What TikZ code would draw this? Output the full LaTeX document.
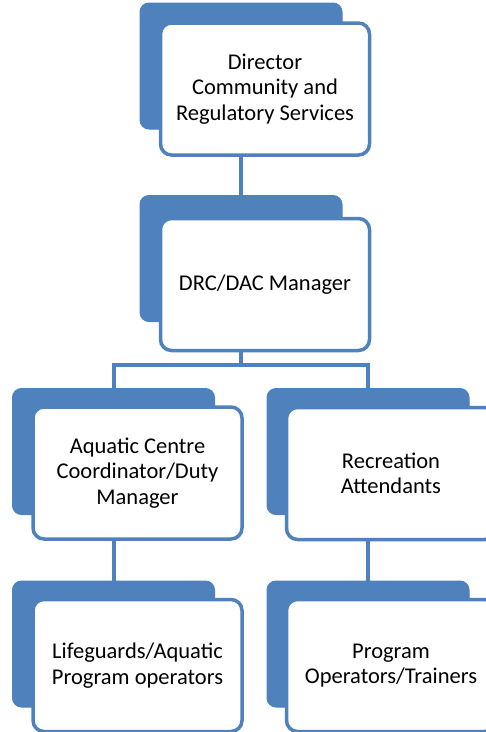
\documentclass[tikz,border=0pt]{standalone}
\usepackage{fontspec}
\setmainfont{Carlito}
\definecolor{ablue}{HTML}{4F81BD}
\begin{document}
\begin{tikzpicture}[x=1pt,y=-1pt,
  backbox/.style={draw=ablue,fill=ablue,line width=1pt,rounded corners=9pt,minimum width=202pt,minimum height=126pt,inner sep=0pt},
  frontbox/.style={draw=ablue,fill=white,line width=3.5pt,rounded corners=11pt,minimum width=209pt,minimum height=132pt,inner sep=0pt,align=center,font=\fontsize{22.5pt}{25.5pt}\selectfont,text=black},
  conn/.style={draw=ablue,line width=4pt}]
\useasboundingbox (0,0) rectangle (486,732);
\clip (0,0) rectangle (486,732);
% back boxes
\node[backbox] (b1) at (241,66) {};
\node[backbox] (b2) at (241,258.5) {};
\node[backbox] (b3) at (113.5,451.5) {};
\node[backbox] (b4) at (368,451.5) {};
\node[backbox] (b5) at (113.5,644) {};
\node[backbox] (b6) at (368,644) {};
% front boxes
\node[frontbox] (f1) at (265,89) {Director\\Community and\\Regulatory Services};
\node[frontbox] (f2) at (265,284.5) {DRC/DAC Manager};
\node[frontbox] (f3) at (137.5,473) {Aquatic Centre\\Coordinator/Duty\\Manager};
\node[frontbox] (f4) at (391,473.5) {Recreation\\Attendants};
\node[frontbox] (f5) at (137.5,665.5) {Lifeguards/Aquatic\\Program operators};
\node[frontbox] (f6) at (391,665.5) {Program\\Operators/Trainers};
% connectors
\coordinate (hy) at (241,365);
\draw[conn] (b1.center |- f1.south) -- (b2.north);
\draw[conn] (b2.center |- f2.south) -- (b2.center |- hy) -- (b3.center |- hy) -- (b3.north);
\draw[conn] (b2.center |- hy) -- (b4.center |- hy) -- (b4.north);
\draw[conn] (b3.center |- f3.south) -- (b5.north);
\draw[conn] (b4.center |- f4.south) -- (b6.north);
\end{tikzpicture}
\end{document}
